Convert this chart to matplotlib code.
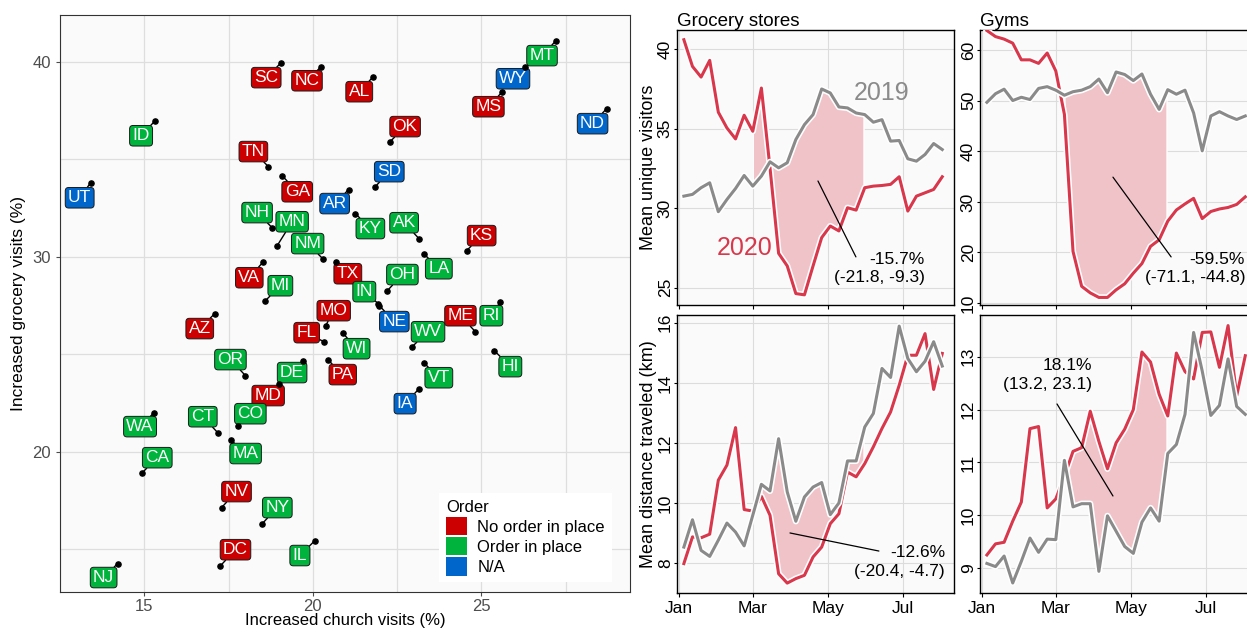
import matplotlib
matplotlib.use('Agg')
import matplotlib.pyplot as plt
import matplotlib.dates as mdates
import matplotlib.patheffects as pe
from matplotlib.patches import Patch
import numpy as np
import pandas as pd

plt.rcParams['font.family'] = ['Liberation Sans', 'DejaVu Sans']

# state-level change in visits (%)
states = ['SC', 'NC', 'AL', 'ID', 'TN', 'UT', 'GA', 'AR', 'NH', 'MN', 'NM', 'VA', 'MI',
          'TX', 'MT', 'WY', 'MS', 'ND', 'OK', 'SD', 'KY', 'AK', 'KS', 'LA', 'OH', 'IN',
          'NE', 'MO', 'AZ', 'FL', 'WI', 'PA', 'OR', 'DE', 'MD', 'CO', 'WA', 'CT', 'MA',
          'CA', 'NV', 'NY', 'DC', 'IL', 'NJ', 'WV', 'ME', 'RI', 'HI', 'VT', 'IA']
church = [19.06, 20.24, 21.79, 15.32, 18.68, 13.41, 19.09, 21.06, 18.79, 18.94, 20.29, 18.53, 18.59,
          20.68, 27.21, 26.29, 25.62, 28.71, 22.29, 21.85, 21.26, 23.15, 24.56, 23.29, 22.21, 21.94,
          21.97, 20.38, 17.09, 20.32, 20.88, 20.44, 18.00, 19.71, 19.00, 17.79, 15.29, 17.18, 17.56,
          14.94, 17.29, 18.50, 17.26, 20.06, 14.21, 22.94, 24.82, 25.56, 25.38, 23.29, 23.15]
grocery = [39.95, 39.74, 39.23, 36.97, 34.62, 33.79, 34.15, 33.44, 31.49, 30.56, 29.90, 29.74, 27.74,
           29.74, 41.08, 39.74, 38.46, 37.59, 35.90, 33.59, 32.21, 30.92, 30.31, 30.15, 28.26, 27.59,
           27.49, 26.46, 27.08, 25.64, 26.10, 24.72, 23.90, 24.67, 23.49, 21.33, 22.00, 20.97, 20.62,
           18.92, 17.13, 16.31, 14.15, 15.44, 14.26, 25.38, 26.15, 27.69, 25.18, 24.56, 23.23]
no_order = ['SC', 'NC', 'AL', 'TN', 'GA', 'VA', 'TX', 'MS', 'OK', 'KS', 'MO', 'AZ', 'FL', 'PA',
            'MD', 'NV', 'DC', 'ME']
no_data = ['UT', 'AR', 'WY', 'ND', 'SD', 'NE', 'IA']

# weekly means, 2019 vs 2020
weeks = pd.date_range('2020-01-05', periods=31, freq='7D')
grocery_2019 = [30.75, 30.86, 31.28, 31.59, 29.77, 30.54, 31.23, 32.05, 31.38, 32.01, 32.91, 32.53,
                32.85, 34.31, 35.25, 35.88, 37.49, 37.24, 36.36, 36.30, 35.98, 35.88, 35.40, 35.56,
                34.21, 34.25, 33.10, 32.95, 33.37, 34.06, 33.68]
grocery_2020 = [40.59, 38.91, 38.24, 39.29, 36.03, 35.04, 34.35, 35.84, 34.83, 37.55, 32.53, 27.15,
                26.36, 24.62, 24.54, 26.36, 28.14, 28.87, 28.56, 30.02, 29.87, 31.28, 31.38, 31.42,
                31.49, 31.97, 29.81, 30.75, 30.96, 31.17, 31.97]
gym_2019 = [49.7, 51.4, 52.3, 50.05, 50.7, 50.25, 52.45, 52.8, 52.1, 51.1, 51.8, 52.1, 52.8, 54.3,
            51.6, 55.7, 55.2, 54.0, 55.3, 51.3, 48.3, 52.2, 51.3, 52.1, 47.6, 40.1, 47.0, 47.85,
            47.0, 46.3, 47.0]
gym_2020 = [63.9, 62.7, 62.2, 61.4, 58.1, 58.1, 57.4, 59.45, 55.9, 47.3, 20.2, 13.3, 12.0, 11.1,
            11.1, 12.6, 13.8, 15.9, 17.8, 21.2, 22.5, 26.2, 28.4, 29.6, 30.7, 26.7, 28.1, 28.6,
            28.9, 29.5, 31.0]
dist_grocery_2019 = [8.53, 9.44, 8.42, 8.22, 8.76, 9.33, 9.03, 8.57, 9.59, 10.62, 10.40, 12.14,
                     10.37, 9.39, 10.20, 10.53, 10.68, 9.61, 10.00, 11.40, 11.40, 12.53, 12.98,
                     14.48, 14.18, 15.89, 14.81, 14.37, 14.72, 15.37, 14.56]
dist_grocery_2020 = [7.98, 8.87, 8.84, 8.96, 10.76, 11.26, 12.51, 9.78, 9.73, 10.22, 9.59, 7.64,
                     7.33, 7.48, 7.59, 8.20, 8.53, 9.31, 9.64, 11.03, 10.87, 11.31, 11.87, 12.48,
                     13.03, 13.92, 14.92, 14.92, 15.64, 13.78, 14.98]
dist_gym_2019 = [9.09, 9.03, 9.23, 8.72, 9.13, 9.57, 9.30, 9.55, 9.54, 11.04, 10.16, 10.22, 10.22,
                 8.94, 9.99, 9.70, 9.41, 9.28, 9.87, 10.14, 9.89, 11.17, 11.34, 11.91, 13.46,
                 12.73, 11.89, 12.08, 12.96, 12.06, 11.91]
dist_gym_2020 = [9.25, 9.46, 9.49, 9.89, 10.25, 11.64, 11.68, 10.14, 10.31, 10.74, 11.21, 11.28,
                 11.97, 11.40, 10.88, 11.37, 11.63, 12.00, 13.09, 12.90, 12.29, 11.88, 13.07,
                 12.72, 12.58, 13.46, 13.47, 12.80, 13.59, 12.26, 13.02]

# label offsets (pixels) for the state tags
label_offsets = {
    'SC': (-15, -15), 'NC': (-14, -14), 'AL': (-14, -15), 'ID': (-14, -15), 'TN': (-15, 15),
    'UT': (-11, -15), 'GA': (15, -16), 'AR': (-14, -14), 'NH': (-15, 15), 'MN': (15, 24),
    'NM': (-15, 15), 'VA': (-14, -16), 'MI': (15, 15), 'TX': (12, -12), 'MT': (-14, -15),
    'WY': (-12, -12), 'MS': (-14, -15), 'ND': (-14, -15), 'OK': (15, 15), 'SD': (14, 15),
    'KY': (15, -15), 'AK': (-15, 16), 'KS': (15, 15), 'LA': (15, -15), 'OH': (15, 16),
    'IN': (-14, 12), 'NE': (15, -16), 'MO': (8, 15), 'AZ': (-15, -15), 'FL': (-17, 9),
    'WI': (14, -16), 'PA': (15, -15), 'OR': (-15, 16), 'DE': (-11, -12), 'MD': (-11, -12),
    'CO': (12, 12), 'WA': (-14, -14), 'CT': (-15, 16), 'MA': (15, -14), 'CA': (15, 15),
    'NV': (15, 16), 'NY': (15, 16), 'DC': (15, 16), 'IL': (-15, -15), 'NJ': (-14, -14),
    'WV': (16, 15), 'ME': (-15, 16), 'RI': (-9, -14), 'HI': (16, -16), 'VT': (15, -15),
    'IA': (-14, -15),
}

RED, GREEN, BLUE = '#CC0000', '#00B33C', '#0066CC'
LINE_RED, LINE_GREY, FILL = '#D9374B', '#8A8A8A', '#F0C3C9'

fig = plt.figure(figsize=(12.47, 6.28), dpi=100)

# ---- scatter of church vs grocery visits ----
ax = fig.add_axes([0.0481, 0.0573, 0.457, 0.919])
ax.set_facecolor('#FAFAFA')
ax.set_xlim(12.65, 29.4)
ax.set_ylim(12.8, 42.4)
ax.set_xticks([15, 20, 25])
ax.set_xticks([12.5, 17.5, 22.5, 27.5], minor=True)
ax.set_yticks([20, 30, 40])
ax.set_yticks([15, 25, 35], minor=True)
ax.grid(which='both', color='#DEDEDE', lw=0.9)
ax.set_axisbelow(True)
ax.tick_params(which='major', length=3, color='#4D4D4D', labelcolor='#4D4D4D', labelsize=12)
ax.tick_params(axis='x', which='major', pad=2)
ax.tick_params(which='minor', length=0)
for s in ax.spines.values():
    s.set_color('#333333')

for st, x, y in zip(states, church, grocery):
    c = RED if st in no_order else BLUE if st in no_data else GREEN
    ax.annotate(st, (x, y), xytext=label_offsets[st], textcoords='offset pixels',
                ha='center', va='center', color='white', fontsize=12.5, zorder=4,
                bbox=dict(boxstyle='round,pad=0.16,rounding_size=0.2', fc=c, ec='#1A1A1A', lw=0.7),
                arrowprops=dict(arrowstyle='-', color='black', lw=1.0, shrinkA=0, shrinkB=0))
ax.scatter(church, grocery, s=14, color='black', zorder=5)

ax.set_xlabel('Increased church visits (%)', fontsize=12)
ax.set_ylabel('Increased grocery visits (%)', fontsize=12.5)
ax.xaxis.set_label_coords(0.5, -0.037)
ax.yaxis.set_label_coords(-0.06, 0.5)

handles = [Patch(fc=RED, label='No order in place'),
           Patch(fc=GREEN, label='Order in place'),
           Patch(fc=BLUE, label='N/A')]
ax.legend(handles=handles, title='Order', loc='lower right', bbox_to_anchor=(0.968, 0.017),
          facecolor='white', edgecolor='none', framealpha=1, fancybox=False,
          fontsize=12, title_fontsize=12, handlelength=1.3, handleheight=1.3,
          handletextpad=0.6, labelspacing=0.12, alignment='left', borderaxespad=0)


# ---- weekly panels ----
def panel(pos, y19, y20, fill_from, ylim, yticks):
    a = fig.add_axes(pos)
    a.set_facecolor('#FAFAFA')
    xs = mdates.date2num(weeks)
    d0 = mdates.date2num(pd.Timestamp(fill_from))
    d1 = mdates.date2num(pd.Timestamp('2020-05-30'))
    dense = np.arange(d0, d1 + 0.01, 0.25)
    a.fill_between(dense, np.interp(dense, xs, y19), np.interp(dense, xs, y20),
                   fc=FILL, ec='white', lw=1.0, zorder=2)
    halo = [pe.withStroke(linewidth=4.5, foreground='white')]
    a.plot(weeks, y20, color=LINE_RED, lw=2.2, path_effects=halo, zorder=3)
    a.plot(weeks, y19, color=LINE_GREY, lw=2.2, path_effects=halo, zorder=4)
    a.set_xlim(pd.Timestamp('2019-12-30 10:00'), pd.Timestamp('2020-08-11 12:00'))
    a.set_ylim(*ylim)
    a.set_yticks(yticks)
    a.set_xticks([pd.Timestamp(d) for d in ['2020-01-01', '2020-03-01', '2020-05-01', '2020-07-01']])
    a.xaxis.set_major_formatter(mdates.DateFormatter('%b'))
    a.grid(color='#DCDCDC', lw=0.8)
    a.set_axisbelow(True)
    a.tick_params(axis='x', length=3, pad=3, labelsize=12.5, color='black', labelcolor='black')
    a.tick_params(axis='y', length=2, pad=1, labelsize=12.5, color='black', labelcolor='black',
                  labelrotation=90)
    for lbl in a.get_yticklabels():
        lbl.set_va('center')
    for s in a.spines.values():
        s.set_color('black')
        s.set_linewidth(1.0)
    return a


def effect(a, txt, tx, ty, p0, p1):
    a.annotate('', xy=p0, xytext=p1, xycoords='axes fraction', textcoords='axes fraction',
               arrowprops=dict(arrowstyle='-', color='black', lw=0.9, shrinkA=0, shrinkB=0),
               zorder=6)
    a.text(tx, ty, txt, transform=a.transAxes, ha='right', va='center', fontsize=12.5,
           linespacing=1.3, multialignment='right', zorder=6)


top, bot, h, w = 0.5143, 0.0557, 0.4379, 0.2221
ax1 = panel([0.5429, top, w, h], grocery_2019, grocery_2020, '2020-03-01', (23.9, 41.2), [25, 30, 35, 40])
ax2 = panel([0.7859, top, w, h], gym_2019, gym_2020, '2020-03-08', (9.6, 64.0), [10, 20, 30, 40, 50, 60])
ax3 = panel([0.5429, bot, w, 0.4427], dist_grocery_2019, dist_grocery_2020, '2020-03-08',
            (7.0, 16.26), [8, 10, 12, 14, 16])
ax4 = panel([0.7859, bot, w, 0.4427], dist_gym_2019, dist_gym_2020, '2020-03-08',
            (8.53, 13.79), [9, 10, 11, 12, 13])

for a in (ax1, ax2):
    a.tick_params(axis='x', labelbottom=False)

ax1.set_title('Grocery stores', loc='left', fontsize=13.5, pad=3)
ax2.set_title('Gyms', loc='left', fontsize=13.5, pad=3)
ax1.set_ylabel('Mean unique visitors', fontsize=13)
ax3.set_ylabel('Mean distance traveled (km)', fontsize=13)
ax1.yaxis.set_label_coords(-0.072, 0.5)
ax3.yaxis.set_label_coords(-0.072, 0.5)

ax1.text(0.74, 0.771, '2019', color=LINE_GREY, fontsize=18, ha='center', va='center',
         transform=ax1.transAxes)
ax1.text(0.245, 0.207, '2020', color=LINE_RED, fontsize=18, ha='center', va='center',
         transform=ax1.transAxes)

effect(ax1, '-15.7%\n(-21.8, -9.3)', 0.895, 0.133, (0.509, 0.451), (0.646, 0.175))
effect(ax2, '-59.5%\n(-71.1, -44.8)', 0.957, 0.133, (0.480, 0.465), (0.690, 0.175))
effect(ax3, '-12.6%\n(-20.4, -4.7)', 0.968, 0.112, (0.408, 0.216), (0.729, 0.151))
effect(ax4, '18.1%\n(13.2, 23.1)', 0.404, 0.784, (0.480, 0.349), (0.278, 0.680))

fig.savefig('out.png', dpi=100)
